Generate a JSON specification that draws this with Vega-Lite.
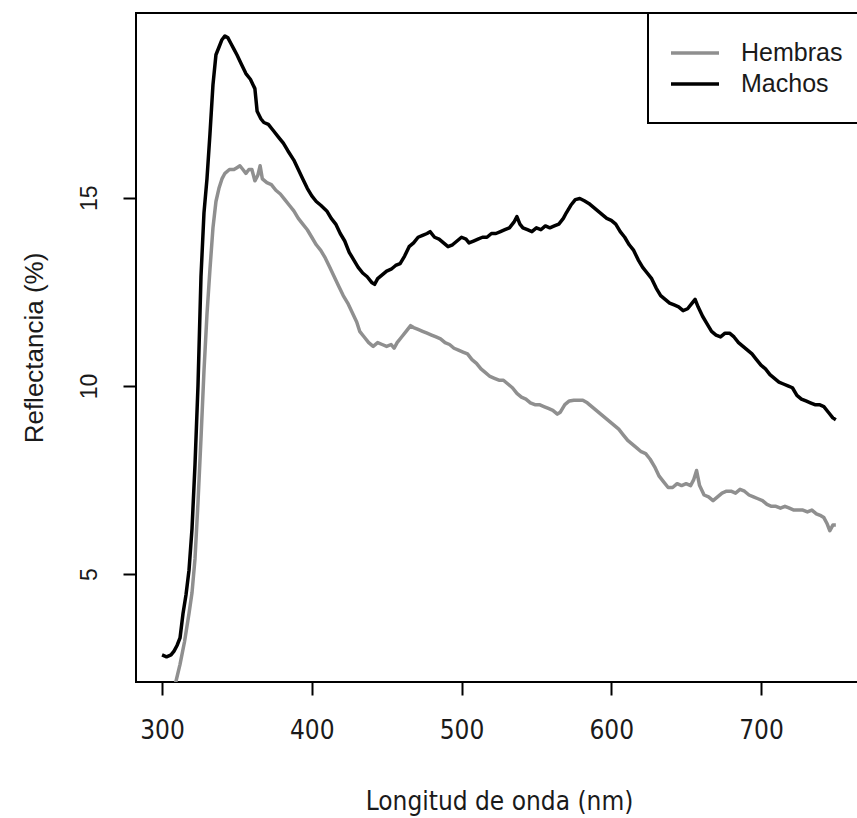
{
  "$schema": "https://vega.github.io/schema/vega-lite/v6.json",
  "width": 722,
  "height": 669,
  "autosize": {"type": "none"},
  "padding": {"left": 136, "top": 13, "right": 0, "bottom": 136},
  "background": "white",
  "config": {"view": {"stroke": "black", "strokeWidth": 2}},
  "data": {"values": [
{"s":"Hembras","nm":300,"r":1.3},{"s":"Hembras","nm":303,"r":1.4},{"s":"Hembras","nm":306,"r":1.7},{"s":"Hembras","nm":309,"r":2.1},{"s":"Hembras","nm":312,"r":2.6},{"s":"Hembras","nm":315,"r":3.2},{"s":"Hembras","nm":318,"r":3.95},{"s":"Hembras","nm":320,"r":4.5},{"s":"Hembras","nm":322,"r":5.4},{"s":"Hembras","nm":324,"r":6.9},{"s":"Hembras","nm":326,"r":8.6},{"s":"Hembras","nm":328,"r":10.4},{"s":"Hembras","nm":330,"r":11.9},{"s":"Hembras","nm":332,"r":13.1},{"s":"Hembras","nm":334,"r":14.2},{"s":"Hembras","nm":336,"r":14.9},{"s":"Hembras","nm":338,"r":15.25},{"s":"Hembras","nm":340,"r":15.5},{"s":"Hembras","nm":342,"r":15.65},{"s":"Hembras","nm":345,"r":15.75},{"s":"Hembras","nm":348,"r":15.75},{"s":"Hembras","nm":350,"r":15.8},{"s":"Hembras","nm":352,"r":15.85},{"s":"Hembras","nm":354,"r":15.75},{"s":"Hembras","nm":356,"r":15.65},{"s":"Hembras","nm":358,"r":15.75},{"s":"Hembras","nm":360,"r":15.75},{"s":"Hembras","nm":362,"r":15.45},{"s":"Hembras","nm":364,"r":15.6},{"s":"Hembras","nm":365.5,"r":15.85},{"s":"Hembras","nm":367,"r":15.5},{"s":"Hembras","nm":370,"r":15.4},{"s":"Hembras","nm":373,"r":15.35},{"s":"Hembras","nm":376,"r":15.2},{"s":"Hembras","nm":379,"r":15.1},{"s":"Hembras","nm":382,"r":14.95},{"s":"Hembras","nm":385,"r":14.8},{"s":"Hembras","nm":388,"r":14.65},{"s":"Hembras","nm":391,"r":14.45},{"s":"Hembras","nm":394,"r":14.3},{"s":"Hembras","nm":397,"r":14.15},{"s":"Hembras","nm":400,"r":13.95},{"s":"Hembras","nm":403,"r":13.75},{"s":"Hembras","nm":406,"r":13.6},{"s":"Hembras","nm":409,"r":13.4},{"s":"Hembras","nm":412,"r":13.15},{"s":"Hembras","nm":415,"r":12.9},{"s":"Hembras","nm":418,"r":12.65},{"s":"Hembras","nm":421,"r":12.4},{"s":"Hembras","nm":424,"r":12.2},{"s":"Hembras","nm":427,"r":11.95},{"s":"Hembras","nm":430,"r":11.7},{"s":"Hembras","nm":432,"r":11.45},{"s":"Hembras","nm":435,"r":11.3},{"s":"Hembras","nm":438,"r":11.15},{"s":"Hembras","nm":441,"r":11.05},{"s":"Hembras","nm":444,"r":11.15},{"s":"Hembras","nm":447,"r":11.1},{"s":"Hembras","nm":450,"r":11.05},{"s":"Hembras","nm":453,"r":11.1},{"s":"Hembras","nm":455,"r":11.0},{"s":"Hembras","nm":457,"r":11.15},{"s":"Hembras","nm":460,"r":11.3},{"s":"Hembras","nm":463,"r":11.45},{"s":"Hembras","nm":466,"r":11.6},{"s":"Hembras","nm":468,"r":11.55},{"s":"Hembras","nm":471,"r":11.5},{"s":"Hembras","nm":474,"r":11.45},{"s":"Hembras","nm":477,"r":11.4},{"s":"Hembras","nm":480,"r":11.35},{"s":"Hembras","nm":483,"r":11.3},{"s":"Hembras","nm":486,"r":11.25},{"s":"Hembras","nm":489,"r":11.15},{"s":"Hembras","nm":492,"r":11.1},{"s":"Hembras","nm":495,"r":11.0},{"s":"Hembras","nm":498,"r":10.95},{"s":"Hembras","nm":501,"r":10.9},{"s":"Hembras","nm":504,"r":10.85},{"s":"Hembras","nm":507,"r":10.7},{"s":"Hembras","nm":510,"r":10.6},{"s":"Hembras","nm":513,"r":10.45},{"s":"Hembras","nm":516,"r":10.35},{"s":"Hembras","nm":519,"r":10.25},{"s":"Hembras","nm":522,"r":10.2},{"s":"Hembras","nm":525,"r":10.15},{"s":"Hembras","nm":528,"r":10.15},{"s":"Hembras","nm":531,"r":10.05},{"s":"Hembras","nm":534,"r":9.95},{"s":"Hembras","nm":537,"r":9.8},{"s":"Hembras","nm":540,"r":9.7},{"s":"Hembras","nm":543,"r":9.65},{"s":"Hembras","nm":546,"r":9.55},{"s":"Hembras","nm":549,"r":9.5},{"s":"Hembras","nm":552,"r":9.5},{"s":"Hembras","nm":555,"r":9.45},{"s":"Hembras","nm":558,"r":9.4},{"s":"Hembras","nm":561,"r":9.35},{"s":"Hembras","nm":564,"r":9.25},{"s":"Hembras","nm":566,"r":9.3},{"s":"Hembras","nm":569,"r":9.5},{"s":"Hembras","nm":572,"r":9.6},{"s":"Hembras","nm":575,"r":9.62},{"s":"Hembras","nm":578,"r":9.62},{"s":"Hembras","nm":581,"r":9.62},{"s":"Hembras","nm":584,"r":9.55},{"s":"Hembras","nm":587,"r":9.45},{"s":"Hembras","nm":590,"r":9.35},{"s":"Hembras","nm":593,"r":9.25},{"s":"Hembras","nm":596,"r":9.15},{"s":"Hembras","nm":599,"r":9.05},{"s":"Hembras","nm":602,"r":8.95},{"s":"Hembras","nm":605,"r":8.85},{"s":"Hembras","nm":608,"r":8.7},{"s":"Hembras","nm":611,"r":8.55},{"s":"Hembras","nm":614,"r":8.45},{"s":"Hembras","nm":617,"r":8.35},{"s":"Hembras","nm":620,"r":8.25},{"s":"Hembras","nm":623,"r":8.2},{"s":"Hembras","nm":626,"r":8.05},{"s":"Hembras","nm":629,"r":7.85},{"s":"Hembras","nm":632,"r":7.6},{"s":"Hembras","nm":635,"r":7.45},{"s":"Hembras","nm":638,"r":7.3},{"s":"Hembras","nm":641,"r":7.3},{"s":"Hembras","nm":644,"r":7.4},{"s":"Hembras","nm":647,"r":7.35},{"s":"Hembras","nm":650,"r":7.4},{"s":"Hembras","nm":653,"r":7.35},{"s":"Hembras","nm":655,"r":7.5},{"s":"Hembras","nm":657,"r":7.75},{"s":"Hembras","nm":659,"r":7.35},{"s":"Hembras","nm":662,"r":7.1},{"s":"Hembras","nm":665,"r":7.05},{"s":"Hembras","nm":668,"r":6.95},{"s":"Hembras","nm":671,"r":7.05},{"s":"Hembras","nm":674,"r":7.15},{"s":"Hembras","nm":677,"r":7.2},{"s":"Hembras","nm":680,"r":7.2},{"s":"Hembras","nm":683,"r":7.15},{"s":"Hembras","nm":686,"r":7.25},{"s":"Hembras","nm":689,"r":7.2},{"s":"Hembras","nm":692,"r":7.1},{"s":"Hembras","nm":695,"r":7.05},{"s":"Hembras","nm":698,"r":7.0},{"s":"Hembras","nm":701,"r":6.95},{"s":"Hembras","nm":704,"r":6.85},{"s":"Hembras","nm":707,"r":6.8},{"s":"Hembras","nm":710,"r":6.8},{"s":"Hembras","nm":713,"r":6.75},{"s":"Hembras","nm":716,"r":6.8},{"s":"Hembras","nm":719,"r":6.75},{"s":"Hembras","nm":722,"r":6.7},{"s":"Hembras","nm":725,"r":6.7},{"s":"Hembras","nm":728,"r":6.7},{"s":"Hembras","nm":731,"r":6.65},{"s":"Hembras","nm":734,"r":6.7},{"s":"Hembras","nm":737,"r":6.6},{"s":"Hembras","nm":740,"r":6.55},{"s":"Hembras","nm":742,"r":6.5},{"s":"Hembras","nm":744,"r":6.35},{"s":"Hembras","nm":746,"r":6.15},{"s":"Hembras","nm":748,"r":6.3},{"s":"Hembras","nm":750,"r":6.3},
{"s":"Machos","nm":300,"r":2.85},{"s":"Machos","nm":303,"r":2.8},{"s":"Machos","nm":306,"r":2.85},{"s":"Machos","nm":308,"r":2.95},{"s":"Machos","nm":310,"r":3.1},{"s":"Machos","nm":312,"r":3.3},{"s":"Machos","nm":314,"r":3.95},{"s":"Machos","nm":316,"r":4.45},{"s":"Machos","nm":318,"r":5.1},{"s":"Machos","nm":320,"r":6.2},{"s":"Machos","nm":322,"r":7.9},{"s":"Machos","nm":324,"r":10.0},{"s":"Machos","nm":326,"r":12.9},{"s":"Machos","nm":328,"r":14.6},{"s":"Machos","nm":330,"r":15.5},{"s":"Machos","nm":332,"r":16.7},{"s":"Machos","nm":334,"r":18.0},{"s":"Machos","nm":336,"r":18.8},{"s":"Machos","nm":338,"r":19.0},{"s":"Machos","nm":340,"r":19.2},{"s":"Machos","nm":342,"r":19.3},{"s":"Machos","nm":344,"r":19.25},{"s":"Machos","nm":346,"r":19.1},{"s":"Machos","nm":348,"r":18.95},{"s":"Machos","nm":350,"r":18.8},{"s":"Machos","nm":353,"r":18.55},{"s":"Machos","nm":356,"r":18.3},{"s":"Machos","nm":359,"r":18.15},{"s":"Machos","nm":362,"r":17.9},{"s":"Machos","nm":363.5,"r":17.3},{"s":"Machos","nm":366,"r":17.1},{"s":"Machos","nm":368,"r":17.0},{"s":"Machos","nm":371,"r":16.95},{"s":"Machos","nm":374,"r":16.8},{"s":"Machos","nm":378,"r":16.6},{"s":"Machos","nm":381,"r":16.45},{"s":"Machos","nm":384,"r":16.25},{"s":"Machos","nm":388,"r":16.0},{"s":"Machos","nm":391,"r":15.75},{"s":"Machos","nm":394,"r":15.5},{"s":"Machos","nm":397,"r":15.25},{"s":"Machos","nm":400,"r":15.05},{"s":"Machos","nm":403,"r":14.9},{"s":"Machos","nm":406,"r":14.8},{"s":"Machos","nm":410,"r":14.65},{"s":"Machos","nm":413,"r":14.45},{"s":"Machos","nm":416,"r":14.3},{"s":"Machos","nm":419,"r":14.05},{"s":"Machos","nm":422,"r":13.85},{"s":"Machos","nm":425,"r":13.55},{"s":"Machos","nm":428,"r":13.35},{"s":"Machos","nm":431,"r":13.15},{"s":"Machos","nm":434,"r":13.0},{"s":"Machos","nm":437,"r":12.9},{"s":"Machos","nm":440,"r":12.75},{"s":"Machos","nm":442,"r":12.7},{"s":"Machos","nm":444,"r":12.85},{"s":"Machos","nm":447,"r":12.95},{"s":"Machos","nm":450,"r":13.05},{"s":"Machos","nm":453,"r":13.1},{"s":"Machos","nm":456,"r":13.2},{"s":"Machos","nm":459,"r":13.25},{"s":"Machos","nm":462,"r":13.45},{"s":"Machos","nm":465,"r":13.7},{"s":"Machos","nm":468,"r":13.8},{"s":"Machos","nm":471,"r":13.95},{"s":"Machos","nm":474,"r":14.0},{"s":"Machos","nm":477,"r":14.05},{"s":"Machos","nm":479,"r":14.1},{"s":"Machos","nm":482,"r":13.95},{"s":"Machos","nm":485,"r":13.9},{"s":"Machos","nm":488,"r":13.8},{"s":"Machos","nm":491,"r":13.7},{"s":"Machos","nm":494,"r":13.75},{"s":"Machos","nm":497,"r":13.85},{"s":"Machos","nm":500,"r":13.95},{"s":"Machos","nm":503,"r":13.9},{"s":"Machos","nm":505,"r":13.8},{"s":"Machos","nm":508,"r":13.85},{"s":"Machos","nm":511,"r":13.9},{"s":"Machos","nm":514,"r":13.95},{"s":"Machos","nm":517,"r":13.95},{"s":"Machos","nm":520,"r":14.05},{"s":"Machos","nm":523,"r":14.05},{"s":"Machos","nm":526,"r":14.1},{"s":"Machos","nm":529,"r":14.15},{"s":"Machos","nm":532,"r":14.2},{"s":"Machos","nm":535,"r":14.35},{"s":"Machos","nm":537,"r":14.5},{"s":"Machos","nm":539,"r":14.3},{"s":"Machos","nm":541,"r":14.2},{"s":"Machos","nm":544,"r":14.15},{"s":"Machos","nm":547,"r":14.1},{"s":"Machos","nm":550,"r":14.2},{"s":"Machos","nm":553,"r":14.15},{"s":"Machos","nm":556,"r":14.25},{"s":"Machos","nm":559,"r":14.2},{"s":"Machos","nm":562,"r":14.25},{"s":"Machos","nm":565,"r":14.3},{"s":"Machos","nm":568,"r":14.45},{"s":"Machos","nm":570,"r":14.6},{"s":"Machos","nm":573,"r":14.8},{"s":"Machos","nm":576,"r":14.95},{"s":"Machos","nm":579,"r":14.98},{"s":"Machos","nm":582,"r":14.92},{"s":"Machos","nm":585,"r":14.85},{"s":"Machos","nm":588,"r":14.75},{"s":"Machos","nm":591,"r":14.65},{"s":"Machos","nm":594,"r":14.55},{"s":"Machos","nm":597,"r":14.45},{"s":"Machos","nm":600,"r":14.4},{"s":"Machos","nm":603,"r":14.3},{"s":"Machos","nm":606,"r":14.1},{"s":"Machos","nm":609,"r":13.95},{"s":"Machos","nm":612,"r":13.75},{"s":"Machos","nm":615,"r":13.6},{"s":"Machos","nm":618,"r":13.35},{"s":"Machos","nm":621,"r":13.15},{"s":"Machos","nm":624,"r":13.0},{"s":"Machos","nm":627,"r":12.85},{"s":"Machos","nm":630,"r":12.6},{"s":"Machos","nm":633,"r":12.4},{"s":"Machos","nm":636,"r":12.3},{"s":"Machos","nm":639,"r":12.2},{"s":"Machos","nm":642,"r":12.15},{"s":"Machos","nm":645,"r":12.1},{"s":"Machos","nm":648,"r":12.0},{"s":"Machos","nm":651,"r":12.05},{"s":"Machos","nm":654,"r":12.2},{"s":"Machos","nm":656,"r":12.3},{"s":"Machos","nm":658,"r":12.1},{"s":"Machos","nm":661,"r":11.85},{"s":"Machos","nm":664,"r":11.65},{"s":"Machos","nm":667,"r":11.45},{"s":"Machos","nm":670,"r":11.35},{"s":"Machos","nm":673,"r":11.3},{"s":"Machos","nm":676,"r":11.4},{"s":"Machos","nm":679,"r":11.4},{"s":"Machos","nm":682,"r":11.3},{"s":"Machos","nm":685,"r":11.15},{"s":"Machos","nm":688,"r":11.05},{"s":"Machos","nm":691,"r":10.95},{"s":"Machos","nm":694,"r":10.85},{"s":"Machos","nm":697,"r":10.7},{"s":"Machos","nm":700,"r":10.55},{"s":"Machos","nm":703,"r":10.45},{"s":"Machos","nm":706,"r":10.3},{"s":"Machos","nm":709,"r":10.2},{"s":"Machos","nm":712,"r":10.1},{"s":"Machos","nm":715,"r":10.05},{"s":"Machos","nm":718,"r":10.0},{"s":"Machos","nm":721,"r":9.95},{"s":"Machos","nm":724,"r":9.75},{"s":"Machos","nm":727,"r":9.65},{"s":"Machos","nm":730,"r":9.6},{"s":"Machos","nm":733,"r":9.55},{"s":"Machos","nm":736,"r":9.5},{"s":"Machos","nm":739,"r":9.5},{"s":"Machos","nm":742,"r":9.45},{"s":"Machos","nm":745,"r":9.3},{"s":"Machos","nm":748,"r":9.15},{"s":"Machos","nm":750,"r":9.1}
  ]},
  "mark": {"type": "line", "clip": true, "strokeWidth": 3.5, "strokeJoin": "round"},
  "encoding": {
    "x": {
      "field": "nm", "type": "quantitative",
      "scale": {"domain": [282.6, 764.8], "nice": false, "zero": false},
      "axis": {
        "values": [300, 400, 500, 600, 700],
        "title": "Longitud de onda (nm)",
        "grid": false, "domain": false,
        "tickColor": "black", "tickWidth": 2, "tickSize": 13,
        "labelFont": "DejaVu Sans Condensed, Liberation Sans, sans-serif", "labelFontSize": 26, "labelColor": "#1a1a1a", "labelPadding": 22,
        "titleFont": "DejaVu Sans Condensed, Liberation Sans, sans-serif", "titleFontSize": 26, "titleFontWeight": "normal", "titleColor": "#1a1a1a",
        "titleX": 363, "titleY": 127, "titleAlign": "center", "titleBaseline": "alphabetic"
      }
    },
    "y": {
      "field": "r", "type": "quantitative",
      "scale": {"domain": [2.13, 19.91], "nice": false, "zero": false},
      "axis": {
        "values": [5, 10, 15],
        "title": "Reflectancia (%)",
        "grid": false, "domain": false,
        "tickColor": "black", "tickWidth": 2, "tickSize": 13,
        "labelFont": "Liberation Sans", "labelFontSize": 23, "labelColor": "#1a1a1a", "labelPadding": 27,
        "labelAngle": 270, "labelAlign": "center", "labelBaseline": "alphabetic",
        "titleFont": "Liberation Sans", "titleFontSize": 26, "titleFontWeight": "normal", "titleColor": "#1a1a1a",
        "titleAngle": 270, "titleX": -94, "titleY": 334.5, "titleAlign": "center", "titleBaseline": "alphabetic"
      }
    },
    "color": {
      "field": "s", "type": "nominal",
      "scale": {"domain": ["Hembras", "Machos"], "range": ["#8f8f8f", "#000000"]},
      "legend": {
        "title": null, "orient": "none", "legendX": 512, "legendY": 0,
        "strokeColor": "black", "fillColor": "white", "padding": 26,
        "symbolType": "M-2,0H2", "symbolSize": 576, "symbolStrokeWidth": 3.5, "symbolOffset": 7,
        "labelFont": "Liberation Sans", "labelFontSize": 25, "labelColor": "#1a1a1a", "labelOffset": 32,
        "rowPadding": 4,
        "encode": {"legend": {"update": {"strokeWidth": {"value": 2}}}}
      }
    }
  }
}
